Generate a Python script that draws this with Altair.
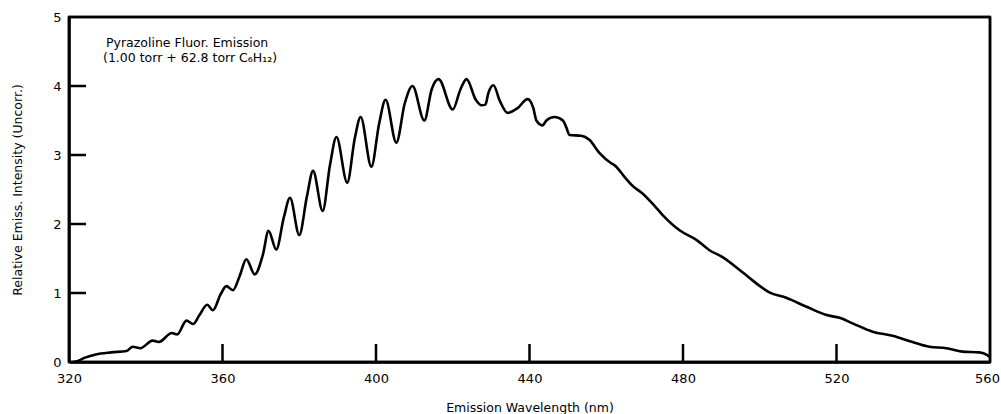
import altair as alt
import pandas as pd

# Emission spectrum
wavelength = [321.0, 322.5, 324.0, 327.0, 331.0, 335.0, 336.6, 338.6, 341.8, 343.4,
              346.8, 348.2, 350.6, 352.3, 354.0, 356.0, 357.5, 359.5, 361.0, 362.7,
              364.5, 366.2, 368.4, 370.5, 372.0, 374.0, 376.0, 377.6, 380.0, 382.0,
              383.6, 386.1, 388.0, 389.7, 392.5, 394.5, 396.0, 398.8, 400.8, 402.5,
              405.3, 407.5, 409.5, 412.6, 414.5, 416.3, 420.0, 422.0, 423.6, 426.0,
              427.5, 428.5, 429.3, 430.6, 432.3, 434.3, 436.9, 439.5, 441.0, 441.8,
              443.4, 444.4, 446.5, 448.7, 449.6, 450.4, 453.5, 455.6, 458.2, 461.3,
              462.2, 464.8, 466.9, 469.3, 472.0, 474.7, 479.1, 483.5, 486.9, 490.3,
              495.5, 499.1, 502.5, 506.9, 512.2, 517.4, 520.8, 524.2, 529.4, 534.6,
              539.8, 544.2, 548.6, 552.8, 557.2, 559.3, 560.0]
intensity = [0.00, 0.02, 0.06, 0.11, 0.14, 0.16, 0.22, 0.20, 0.31, 0.29,
             0.42, 0.40, 0.60, 0.55, 0.68, 0.83, 0.75, 0.98, 1.10, 1.04,
             1.25, 1.49, 1.27, 1.55, 1.90, 1.63, 2.10, 2.38, 1.84, 2.40,
             2.77, 2.19, 2.85, 3.26, 2.60, 3.25, 3.55, 2.83, 3.45, 3.80,
             3.18, 3.75, 4.00, 3.50, 3.95, 4.10, 3.66, 3.95, 4.10, 3.80,
             3.72, 3.73, 3.90, 4.01, 3.78, 3.61, 3.68, 3.81, 3.68, 3.50,
             3.43, 3.50, 3.55, 3.50, 3.40, 3.29, 3.28, 3.22, 3.03, 2.88,
             2.85, 2.68, 2.55, 2.45, 2.30, 2.13, 1.91, 1.77, 1.62, 1.52,
             1.30, 1.14, 1.01, 0.93, 0.80, 0.68, 0.64, 0.56, 0.44, 0.38,
             0.29, 0.22, 0.20, 0.15, 0.14, 0.10, 0.07]

x_tick_labels = [320, 360, 400, 440, 480, 520, 560]
y_tick_labels = [0, 1, 2, 3, 4, 5]
x_inner_ticks = [360, 400, 440, 480, 520]
y_inner_ticks = [1, 2, 3, 4]
frame_x = [320, 560]
frame_y = [0, 5]

annot_line1 = "Pyrazoline Fluor. Emission"
annot_line2 = "(1.00 torr + 62.8 torr C\u2086H\u2081\u2082)"

FONT = "DejaVu Sans"
W, H = 921, 345

df = pd.DataFrame({"wl": wavelength, "I": intensity})
xt = pd.DataFrame({"xw": x_inner_ticks})
yt = pd.DataFrame({"yi": y_inner_ticks})
fx = pd.DataFrame({"fxw": frame_x})
fy = pd.DataFrame({"fyi": frame_y})

xscale = alt.Scale(domain=[320, 560], nice=False, zero=False)
yscale = alt.Scale(domain=[0, 5], nice=False)

xaxis = alt.Axis(values=x_tick_labels, format="d", title="Emission Wavelength (nm)",
                 grid=False, ticks=False, domain=True, domainColor="black",
                 domainWidth=2.5, labelFont=FONT,
                 labelFontSize=13, labelColor="black", labelPadding=10,
                 labelFlush=False,
                 labelOffset={"condition": {"test": "datum.value == 560", "value": -3},
                              "value": 0},
                 titleFont=FONT, titleFontSize=12.5, titleFontWeight="normal",
                 titleColor="black", titleY=49, titleBaseline="alphabetic")
yaxis = alt.Axis(values=y_tick_labels, format="d",
                 title="Relative Emiss. Intensity (Uncorr.)",
                 grid=False, ticks=False, domain=True, domainColor="black",
                 domainWidth=2.5, labelFont=FONT,
                 labelFontSize=13, labelColor="black", labelPadding=8,
                 labelFlush=False, titleFont=FONT, titleFontSize=12.5,
                 titleFontWeight="normal", titleColor="black", titleX=-52,
                 titleBaseline="middle")

line = alt.Chart(df).mark_line(color="black", strokeWidth=2.6,
                               interpolate="monotone").encode(
    x=alt.X("wl:Q", scale=xscale, axis=xaxis),
    y=alt.Y("I:Q", scale=yscale, axis=yaxis),
)

frame_v = alt.Chart(fx).mark_rule(color="black", strokeWidth=2.5).encode(
    x=alt.X("fxw:Q", scale=xscale),
    y=alt.value(0), y2=alt.value(H),
)
frame_h = alt.Chart(fy).mark_rule(color="black", strokeWidth=2.5).encode(
    y=alt.Y("fyi:Q", scale=yscale),
    x=alt.value(0), x2=alt.value(W),
)

xticks = alt.Chart(xt).mark_rule(color="black", strokeWidth=2.5).encode(
    x=alt.X("xw:Q", scale=xscale),
    y=alt.value(H), y2=alt.value(H - 18),
)
yticks = alt.Chart(yt).mark_rule(color="black", strokeWidth=2.5).encode(
    y=alt.Y("yi:Q", scale=yscale),
    x=alt.value(0), x2=alt.value(17),
)

t1 = alt.Chart(pd.DataFrame({"t": [annot_line1]})).mark_text(
    font=FONT, fontSize=12.5, color="black", align="left", baseline="alphabetic"
).encode(x=alt.value(37), y=alt.value(30), text="t:N")
t2 = alt.Chart(pd.DataFrame({"t": [annot_line2]})).mark_text(
    font=FONT, fontSize=12.5, color="black", align="left", baseline="alphabetic"
).encode(x=alt.value(34), y=alt.value(45), text="t:N")

chart = alt.layer(line, frame_v, frame_h, xticks, yticks, t1, t2).properties(
    width=W, height=H,
    padding={"left": 69, "top": 17, "right": 11, "bottom": 52},
    autosize="none",
    background="white",
).configure_view(stroke="black", strokeWidth=2.5)

chart.save("out.html", embed_options={"renderer": "svg", "actions": False})
